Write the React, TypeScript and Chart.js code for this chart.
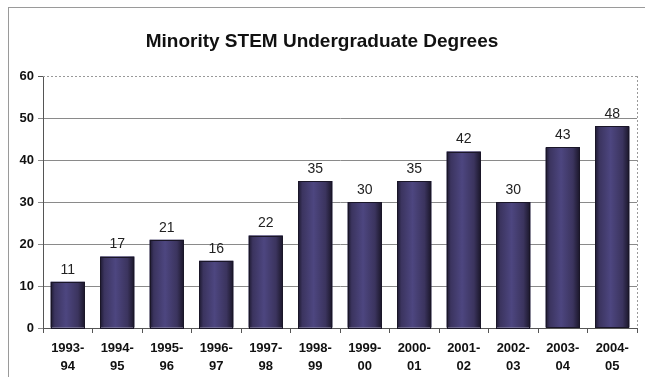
import React, { useEffect, useRef } from "react";
import { Chart, registerables } from "chart.js";

Chart.register(...registerables);

const TITLE = "Minority STEM Undergraduate Degrees";
const CATEGORIES: string[][] = [
  ["1993-", "94"], ["1994-", "95"], ["1995-", "96"], ["1996-", "97"],
  ["1997-", "98"], ["1998-", "99"], ["1999-", "00"], ["2000-", "01"],
  ["2001-", "02"], ["2002-", "03"], ["2003-", "04"], ["2004-", "05"],
];
const DEGREES = [11, 17, 21, 16, 22, 35, 30, 35, 42, 30, 43, 48];
const Y_MIN = 0;
const Y_MAX = 60;
const Y_STEP = 10;

const FONT = "'Liberation Sans', Arial, sans-serif";

const extras = {
  id: "extras",
  beforeDraw(chart: any) {
    const { ctx } = chart;
    ctx.save();
    ctx.fillStyle = "#ffffff";
    ctx.fillRect(0, 0, chart.width, chart.height);
    ctx.strokeStyle = "#9a9a9a";
    ctx.lineWidth = 1;
    ctx.strokeRect(8.5, 7.5, chart.width + 20, chart.height + 20);
    ctx.fillStyle = "#111";
    ctx.font = `bold 19px ${FONT}`;
    ctx.textAlign = "center";
    ctx.textBaseline = "middle";
    ctx.fillText(TITLE, 322, 42);
    ctx.restore();
  },
  afterDatasetsDraw(chart: any) {
    const { ctx, chartArea } = chart;
    const meta = chart.getDatasetMeta(0);
    ctx.save();
    meta.data.forEach((bar: any, i: number) => {
      const { x, y, width, base } = bar.getProps(["x", "y", "width", "base"], true);
      const l = x - width / 2;
      const g = ctx.createLinearGradient(l, 0, l + width, 0);
      g.addColorStop(0, "#1d1930");
      g.addColorStop(0.12, "#3b345f");
      g.addColorStop(0.45, "#4d4680");
      g.addColorStop(0.8, "#3b345e");
      g.addColorStop(1, "#1a1629");
      ctx.fillStyle = g;
      ctx.fillRect(l, y, width, base - y);
      ctx.strokeStyle = "#1a1628";
      ctx.lineWidth = 1;
      ctx.strokeRect(Math.round(l) + 0.5, Math.round(y) + 0.5, Math.round(width) - 1, Math.round(base - y));
      ctx.fillStyle = "#222";
      ctx.font = `14px ${FONT}`;
      ctx.textAlign = "center";
      ctx.textBaseline = "bottom";
      ctx.fillText(String(DEGREES[i]), x, y - 5);
    });
    // dotted plot border (top & right)
    ctx.strokeStyle = "#999";
    ctx.setLineDash([2, 2]);
    ctx.beginPath();
    ctx.moveTo(chartArea.left, Math.round(chartArea.top) + 0.5);
    ctx.lineTo(chartArea.right, Math.round(chartArea.top) + 0.5);
    ctx.moveTo(Math.round(chartArea.right) + 0.5, chartArea.top);
    ctx.lineTo(Math.round(chartArea.right) + 0.5, chartArea.bottom);
    ctx.stroke();
    ctx.setLineDash([]);
    ctx.strokeStyle = "#555";
    ctx.beginPath();
    ctx.moveTo(chartArea.left - 5, Math.round(chartArea.top) + 0.5);
    ctx.lineTo(chartArea.left, Math.round(chartArea.top) + 0.5);
    ctx.stroke();
    ctx.restore();
  },
};

export default function App() {
  const ref = useRef<HTMLCanvasElement>(null);
  useEffect(() => {
    const chart = new Chart(ref.current!, {
      type: "bar",
      data: {
        labels: CATEGORIES,
        datasets: [
          {
            data: DEGREES,
            backgroundColor: "#3f3865",
            borderWidth: 0,
            barPercentage: 0.69,
            categoryPercentage: 1,
          },
        ],
      },
      options: {
        responsive: false,
        animation: false,
        layout: { padding: { left: 0, right: 8, top: 76, bottom: 0 } },
        plugins: { legend: { display: false }, tooltip: { enabled: false }, title: { display: false } },
        scales: {
          x: {
            offset: true,
            grid: { display: true, drawOnChartArea: false, drawTicks: true, tickLength: 5, color: "#555", offset: true },
            border: { display: true, color: "#555" },
            ticks: {
              color: "#111",
              font: { family: FONT, size: 13, weight: "bold", lineHeight: 1.35 },
              padding: 7,
              maxRotation: 0,
              autoSkip: false,
            },
            afterFit: (s: any) => { s.height = 49; },
          },
          y: {
            min: Y_MIN,
            max: Y_MAX,
            ticks: {
              stepSize: Y_STEP,
              color: "#111",
              font: { family: FONT, size: 13, weight: "bold" },
              padding: 4,
            },
            grid: {
              color: (c: any) => (c.tick && c.tick.value === Y_MAX ? "rgba(0,0,0,0)" : "#8a8a8a"),
              tickLength: 5,
            },
            border: { display: true, color: "#555" },
            afterFit: (s: any) => { s.width = 43; },
          },
        },
      },
      plugins: [extras],
    });
    return () => chart.destroy();
  }, []);
  return (
    <div style={{ position: "fixed", left: 0, top: 0, width: 645, height: 377 }}>
      <canvas ref={ref} width={645} height={377} style={{ width: 645, height: 377 }} />
    </div>
  );
}
